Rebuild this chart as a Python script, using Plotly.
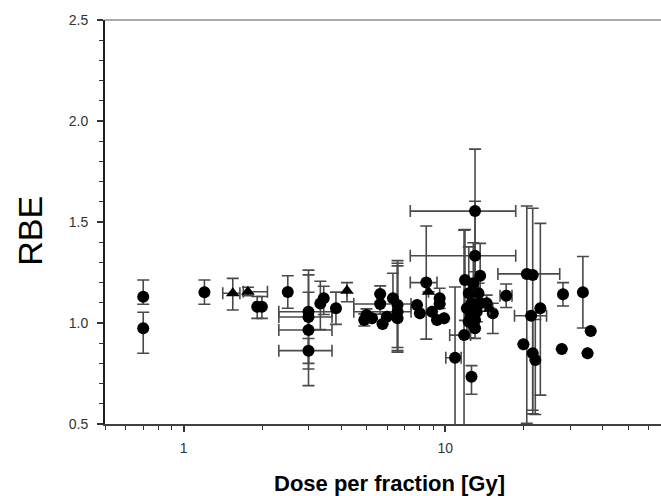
import math
import plotly.graph_objects as go

# ---- circle series (dose per fraction [Gy], RBE) ----
circ_x = [0.70, 0.70, 1.20, 1.91, 1.99, 2.50, 3.0, 3.0, 3.0, 3.0, 3.33, 3.43, 3.82,
          4.9, 5.0, 5.25, 5.64, 5.64, 5.76, 5.98, 6.31, 6.57, 6.57, 6.57,
          7.8, 8.0, 8.46, 8.9, 9.3, 9.52, 9.52, 9.9,
          10.9, 11.8, 12.6, 13.0, 13.0, 11.9, 13.6, 12.8, 12.3, 13.4, 12.6, 13.6,
          12.1, 13.2, 12.5, 13.0, 12.3, 13.0, 14.4, 15.2, 17.1,
          20.5, 21.6, 23.1, 21.3, 19.9, 21.6, 22.1, 28.2, 27.9, 33.6, 36.0, 35.0]
circ_y = [1.130, 0.974, 1.152, 1.081, 1.081, 1.153, 1.056, 1.030, 0.965, 0.863, 1.097, 1.122, 1.073,
          1.015, 1.040, 1.023, 1.144, 1.094, 0.995, 1.031, 1.122, 1.089, 1.056, 1.023,
          1.089, 1.048, 1.200, 1.056, 1.015, 1.122, 1.094, 1.023,
          0.828, 0.940, 0.734, 1.554, 1.333, 1.213, 1.234, 1.197, 1.147, 1.147, 1.098, 1.098,
          1.073, 1.056, 1.031, 1.015, 1.006, 0.974, 1.098, 1.048, 1.135,
          1.243, 1.238, 1.073, 1.036, 0.895, 0.850, 0.817, 1.142, 0.871, 1.152, 0.960, 0.850]
circ_err_up = [0.083, 0.079, 0.061, 0.05, 0.05, 0.081, 0.206, 0.208, 0.187, 0.06, 0.11, 0.06, 0.08,
               0.03, 0.03, None, 0.04, 0.05, None, None, 0.124, 0.22, 0.24, 0.26,
               None, None, 0.28, None, None, 0.05, None, None,
               0.35, 0.52, 0.055, 0.307, 0.27, 0.25, 0.16, 0.2, 0.23, 0.05, 0.05, None,
               None, 0.05, None, None, None, None, 0.04, 0.05, 0.058,
               0.336, 0.33, 0.42, None, None, 0.20, 0.20, 0.058, None, 0.177, None, None]
circ_err_dn = [0.037, 0.124, 0.059, 0.058, 0.058, 0.08, 0.09, 0.23, 0.193, 0.173, 0.13, 0.08, 0.08,
               0.03, 0.03, None, 0.04, 0.05, None, None, 0.10, 0.21, 0.20, 0.16,
               None, None, 0.28, None, None, 0.05, None, None,
               0.45, 0.50, 0.087, 0.30, 0.25, 0.20, 0.15, 0.2, 0.22, 0.05, 0.05, None,
               0.12, 0.05, None, None, 0.08, 0.05, 0.04, 0.10, 0.058,
               0.74, 0.67, 0.43, None, None, 0.30, 0.27, 0.058, None, 0.177, None, None]
circ_x_lo = [None, None, None, None, None, None, 2.31, 2.31, 2.31, 2.31, None, None, None,
             None, None, None, None, 4.47, None, None, None, None, 4.47, None,
             None, None, 7.35, None, None, None, None, None,
             10.05, 10.4, None, 7.35, 7.35, None, None, None, None, None, None, None,
             None, None, None, None, None, None, None, None, 16.2,
             15.9, None, None, 18.4, None, None, None, None, None, None, None, None]
circ_x_hi = [None, None, None, None, None, None, 3.69, 3.69, 3.69, 3.69, None, None, None,
             None, None, None, None, 7.40, None, None, None, None, 7.40, None,
             None, None, 9.30, None, None, None, None, None,
             11.5, 12.5, None, 18.6, 18.6, None, None, None, None, None, None, None,
             None, None, None, None, None, None, None, None, 18.0,
             27.4, None, None, 24.4, None, None, None, None, None, None, None, None]

# ---- triangle series ----
tri_x = [1.54, 1.76, 4.21, 8.63, 14.8]
tri_y = [1.147, 1.155, 1.160, 1.155, 1.070]
tri_err_up = [0.074, 0.022, 0.04, None, None]
tri_err_dn = [0.083, 0.020, 0.055, None, None]
tri_x_lo = [1.41, 1.69, None, None, None]
tri_x_hi = [1.64, 2.09, None, None, None]

y_ticks = [0.5, 1.0, 1.5, 2.0, 2.5]
x_ticks = [1, 10, 100]
x_minor = [0.5, 0.6, 0.7, 0.8, 0.9, 2, 3, 4, 5, 6, 7, 8, 9, 20, 30, 40, 50, 60, 70, 80, 90]


def xerr(xs, lo, hi):
    plus = [None if h is None else h - x for x, h in zip(xs, hi)]
    minus = [None if l is None else x - l for x, l in zip(xs, lo)]
    return plus, minus


ERR_COLOR = "#4a4a4a"
FONT = "Arial, Liberation Sans, sans-serif"

fig = go.Figure()
for xs, ys, up, dn, lo, hi, sym, sz in [
    (circ_x, circ_y, circ_err_up, circ_err_dn, circ_x_lo, circ_x_hi, "circle", 12),
    (tri_x, tri_y, tri_err_up, tri_err_dn, tri_x_lo, tri_x_hi, "triangle-up", 12),
]:
    xp, xm = xerr(xs, lo, hi)
    fig.add_trace(go.Scatter(
        x=xs, y=ys, mode="markers",
        marker=dict(symbol=sym, size=sz, color="black", line=dict(width=0)),
        error_y=dict(type="data", symmetric=False, array=up, arrayminus=dn,
                     color=ERR_COLOR, thickness=1.6, width=6),
        error_x=dict(type="data", symmetric=False, array=xp, arrayminus=xm,
                     color=ERR_COLOR, thickness=1.6, width=6),
        showlegend=False,
    ))

fig.update_layout(
    width=661, height=496,
    margin=dict(l=105, r=0, t=20, b=72),
    paper_bgcolor="white", plot_bgcolor="white",
    font=dict(family=FONT, color="#333333", size=14),
    xaxis=dict(
        type="log", range=[math.log10(0.5), 1.825],
        tickmode="array", tickvals=x_ticks, ticktext=[str(v) for v in x_ticks],
        ticks="outside", ticklen=6, tickwidth=1.5, tickcolor="#333333",
        showline=True, linecolor="#404040", linewidth=1.5,
        showgrid=False, zeroline=False,
        minor=dict(tickmode="array", tickvals=x_minor, ticks="outside",
                   ticklen=4, tickwidth=1.2, tickcolor="#333333", showgrid=False),
        tickfont=dict(size=14, color="#333333"),
        ticklabelstandoff=4,
    ),
    yaxis=dict(
        range=[0.5, 2.5],
        tickmode="array", tickvals=y_ticks, ticktext=["%.1f" % v for v in y_ticks],
        ticks="outside", ticklen=6, tickwidth=1.5, tickcolor="#333333",
        showline=True, linecolor="#202020", linewidth=2,
        showgrid=False, zeroline=False,
        minor=dict(dtick=0.1, ticks="outside", ticklen=4, tickwidth=1.2,
                   tickcolor="#333333", showgrid=False),
        tickfont=dict(size=14, color="#333333"),
        ticklabelstandoff=6,
    ),
    shapes=[dict(type="line", xref="paper", yref="paper", x0=0, x1=1, y0=1, y1=1,
                 line=dict(color="#555555", width=1.2))],
    annotations=[
        dict(text="<b>Dose per fraction [Gy]</b>", xref="paper", yref="paper",
             x=0.512, y=-0.148, xanchor="center", yanchor="middle", showarrow=False,
             font=dict(size=22, color="black", family=FONT)),
        dict(text="RBE", xref="paper", yref="paper", x=-0.135, y=0.478,
             xanchor="center", yanchor="middle", textangle=-90, showarrow=False,
             font=dict(size=34, color="black", family=FONT)),
    ],
)

fig.write_html("out.html")
